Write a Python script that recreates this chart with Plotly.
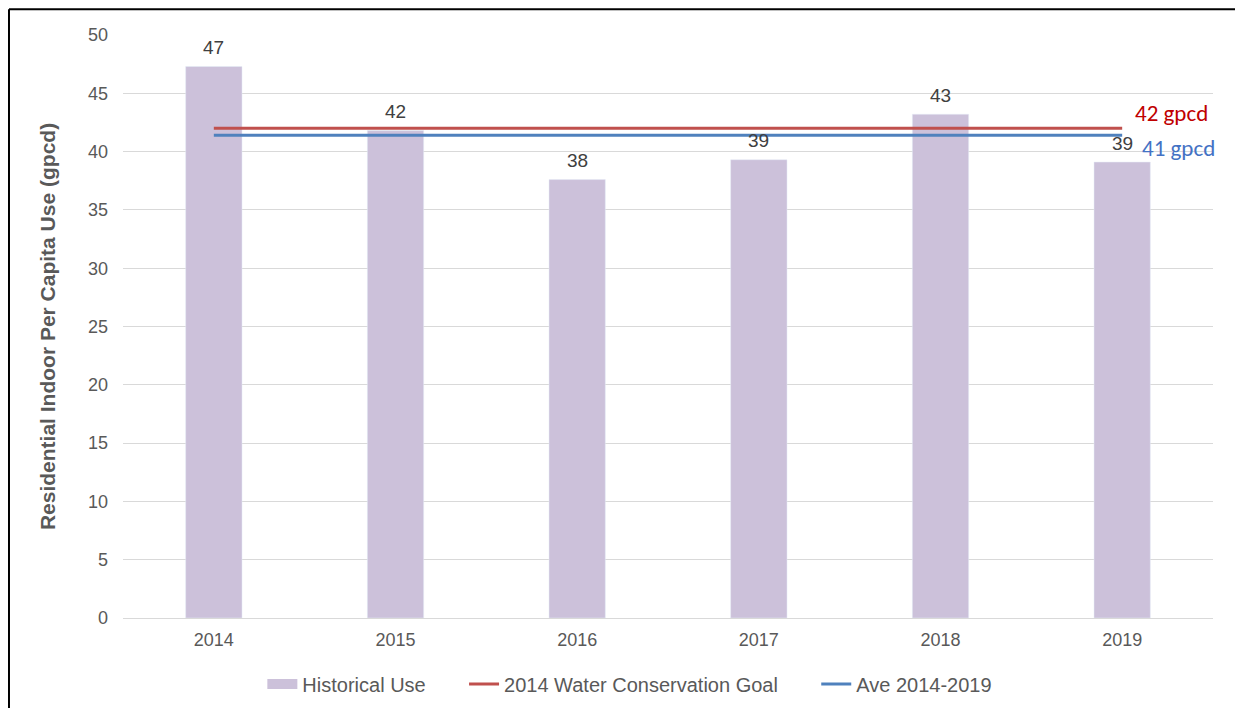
import plotly.graph_objects as go

years = ["2014", "2015", "2016", "2017", "2018", "2019"]
historical_use = [47.3, 41.8, 37.6, 39.3, 43.2, 39.1]
goal_value = 42.0
average_value = 41.4
goal = [goal_value] * len(years)
average = [average_value] * len(years)

FONT = "Arial, Liberation Sans, sans-serif"
PAD = "\u00a0" * 6

fig = go.Figure()
fig.add_trace(go.Bar(
    x=years, y=historical_use, name="Historical Use", showlegend=False,
    marker_color="#CCC1DA",
))
# legend entry drawn as a wide swatch like the original
fig.add_trace(go.Scatter(
    x=[years[0]], y=[None], name="Historical Use" + PAD, mode="lines",
    line=dict(color="#CCC1DA", width=11),
))
fig.add_trace(go.Scatter(
    x=years, y=goal, name="2014 Water Conservation Goal" + PAD, mode="lines",
    line=dict(color="#C0504D", width=3),
))
fig.add_trace(go.Scatter(
    x=years, y=average, name="Ave 2014-2019", mode="lines",
    line=dict(color="#4F81BD", width=3),
))

# value labels above the bars (category index positions on the category axis)
value_labels = [
    dict(x=i, y=v, xref="x", yref="y", text=f"{v:.0f}", showarrow=False,
         yanchor="middle", yshift=19, font=dict(size=19, color="#404040", family=FONT))
    for i, v in enumerate(historical_use)
]

fig.update_layout(
    width=1235, height=700,
    margin=dict(l=115, r=30, t=27, b=90, autoexpand=False),
    paper_bgcolor="white", plot_bgcolor="white",
    font=dict(family=FONT, color="#595959", size=16),
    bargap=0.69,
    showlegend=True,
    legend=dict(orientation="h", x=0.465, xanchor="center", y=-0.113, yanchor="middle",
                font=dict(size=20, color="#595959", family=FONT), itemwidth=30,
                traceorder="normal"),
    xaxis=dict(type="category", categoryorder="array", categoryarray=years,
               showgrid=False, showline=True, linecolor="#D9D9D9", linewidth=1,
               ticks="", tickfont=dict(size=18, color="#595959"), ticklabelstandoff=5),
    yaxis=dict(range=[0, 50], dtick=5, showgrid=True, gridcolor="#D9D9D9", gridwidth=1,
               zeroline=False, ticks="", tickfont=dict(size=18, color="#595959"),
               ticklabelstandoff=14,
               title=dict(text="Residential Indoor Per Capita Use (gpcd)",
                          font=dict(size=21, color="#595959", family=FONT, weight="bold"),
                          standoff=26)),
    annotations=value_labels + [
        dict(x=0.997, xref="paper", y=43.3, yref="y", text="42 gpcd",
             showarrow=False, xanchor="right", yanchor="middle",
             font=dict(size=23, color="#C00000", family="Calibri, Carlito, Liberation Sans")),
        dict(x=1.004, xref="paper", y=40.3, yref="y", text="41 gpcd",
             showarrow=False, xanchor="right", yanchor="middle",
             font=dict(size=23, color="#4472C4", family="Calibri, Carlito, Liberation Sans")),
    ],
    shapes=[
        dict(type="line", xref="paper", yref="paper", x0=-0.1046, x1=1.03, y0=1.044, y1=1.044,
             line=dict(color="#000000", width=2)),
        dict(type="line", xref="paper", yref="paper", x0=-0.1046, x1=-0.1046, y0=1.044, y1=-0.16,
             line=dict(color="#000000", width=2)),
    ],
)

fig.write_html("out.html")
